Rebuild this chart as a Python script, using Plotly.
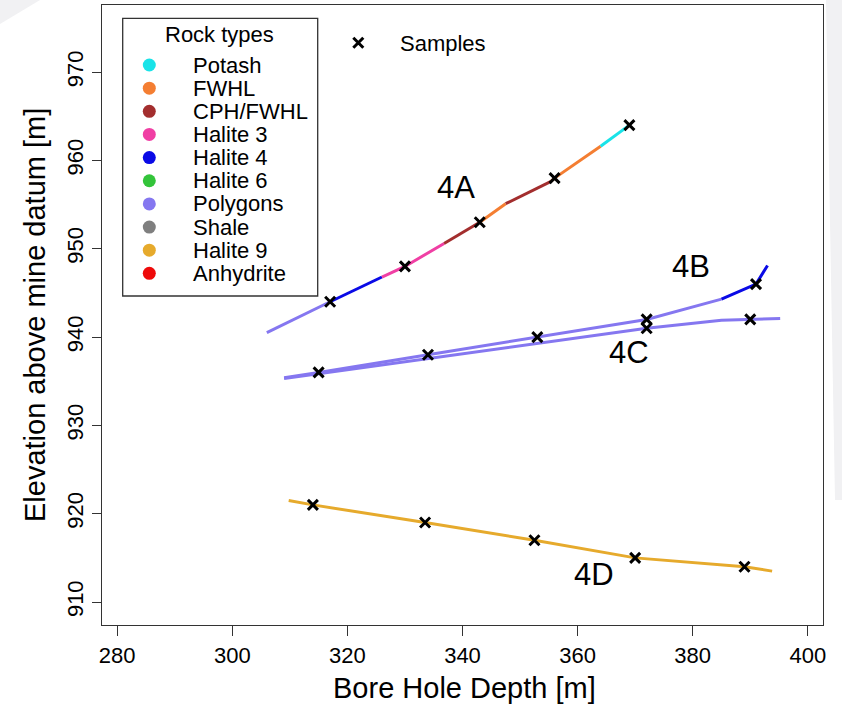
import plotly.graph_objects as go

# ---------------- data ----------------
rock_types = ["Potash", "FWHL", "CPH/FWHL", "Halite 3", "Halite 4",
              "Halite 6", "Polygons", "Shale", "Halite 9", "Anhydrite"]
rock_colors = ["#19E3E8", "#F47E32", "#A32E2E", "#F03FA4", "#0A0AE6",
               "#33C43A", "#8577F0", "#7F7F7F", "#E6AA2C", "#EE0A0A"]

# borehole traces: depth [m], elevation [m], rock type of segment starting at each vertex
bh_4A_depth = [306, 317, 326, 330, 336.8, 343, 347.5, 355.3, 356, 364, 369]
bh_4A_elev = [940.5, 944, 946.8, 948, 950.6, 953, 955.1, 957.6, 958, 961.6, 964]
bh_4A_rock = ["Polygons", "Halite 4", "Halite 3", "Halite 3", "CPH/FWHL",
              "FWHL", "CPH/FWHL", "FWHL", "FWHL", "Potash"]

bh_4B_depth = [309, 315, 334, 353, 372, 385, 391, 393]
bh_4B_elev = [935.4, 936, 938, 940, 942, 944.3, 946, 948.1]
bh_4B_rock = ["Polygons", "Polygons", "Polygons", "Polygons", "Polygons",
              "Halite 4", "Halite 4"]

bh_4C_depth = [309, 372, 385, 390, 395.2]
bh_4C_elev = [935.3, 941, 941.9, 942, 942.1]
bh_4C_rock = ["Polygons", "Polygons", "Polygons", "Polygons"]

bh_4D_depth = [309.8, 314, 333.5, 352.5, 370, 389, 393.8]
bh_4D_elev = [921.5, 921, 919, 917, 915, 914, 913.5]
bh_4D_rock = ["Halite 9"] * 6

# samples
samp_4A_depth = [317, 330, 343, 356, 369]
samp_4A_elev = [944, 948, 953, 958, 964]
samp_4B_depth = [315, 334, 353, 372, 391]
samp_4B_elev = [936, 938, 940, 942, 946]
samp_4C_depth = [372, 390]
samp_4C_elev = [941, 942]
samp_4D_depth = [314, 333.5, 352.5, 370, 389]
samp_4D_elev = [921, 919, 917, 915, 914]

# borehole labels
label_text = ["4A", "4B", "4C", "4D"]
label_depth = [338.8, 379.7, 368.9, 362.9]
label_elev = [956.9, 948.0, 938.2, 913.1]

x_ticks = [280, 300, 320, 340, 360, 380, 400]
y_ticks = [910, 920, 930, 940, 950, 960, 970]
x_range = [277.36, 402.64]
y_range = [907.4, 977.6]

# ---------------- layout geometry ----------------
W, H = 842, 706
ML, MR, MT, MB = 102, 19, 5, 81
PW, PH = W - ML - MR, H - MT - MB
FONT = "Liberation Sans, Arial, Helvetica, sans-serif"


def pxx(xp):
    return (xp - ML) / PW


def pxy(yp):
    return (H - MB - yp) / PH


color_of = dict(zip(rock_types, rock_colors))

fig = go.Figure()


def add_borehole(depth, elev, rock):
    n = len(rock)
    i = 0
    while i < n:
        j = i
        while j + 1 < n and rock[j + 1] == rock[i]:
            j += 1
        fig.add_trace(go.Scatter(
            x=depth[i:j + 2], y=elev[i:j + 2], mode="lines",
            line=dict(color=color_of[rock[i]], width=3),
            showlegend=False, hoverinfo="skip"))
        i = j + 1


for d, e, r in [(bh_4A_depth, bh_4A_elev, bh_4A_rock),
                (bh_4B_depth, bh_4B_elev, bh_4B_rock),
                (bh_4C_depth, bh_4C_elev, bh_4C_rock),
                (bh_4D_depth, bh_4D_elev, bh_4D_rock)]:
    add_borehole(d, e, r)

sample_marker = dict(symbol="x-thin", size=10, color="black",
                     line=dict(color="black", width=3))
for d, e in [(samp_4A_depth, samp_4A_elev), (samp_4B_depth, samp_4B_elev),
             (samp_4C_depth, samp_4C_elev), (samp_4D_depth, samp_4D_elev)]:
    fig.add_trace(go.Scatter(x=d, y=e, mode="markers", marker=sample_marker,
                             showlegend=False, hoverinfo="skip"))

annotations = []
for t, x, y in zip(label_text, label_depth, label_elev):
    annotations.append(dict(x=x, y=y, xref="x", yref="y", text=t,
                            showarrow=False, font=dict(size=31, color="black", family=FONT)))

# ---------------- custom legend (pixel overlay axes) ----------------
leg_x0, leg_y0, leg_x1, leg_y1 = 122.7, 18.3, 317.7, 296
row0, row_step = 65, 23.15
dot_x, text_x = 149.3, 191
fig.add_trace(go.Scatter(
    x=[dot_x] * len(rock_types),
    y=[row0 + i * row_step for i in range(len(rock_types))],
    mode="markers", xaxis="x2", yaxis="y2", cliponaxis=False,
    marker=dict(symbol="circle", size=13, color=rock_colors, line=dict(width=0)),
    showlegend=False, hoverinfo="skip"))
for i, name in enumerate(rock_types):
    annotations.append(dict(x=text_x, y=row0 + i * row_step, xref="x2", yref="y2",
                            text=name, showarrow=False, xanchor="left", yanchor="middle",
                            font=dict(size=22, color="black", family=FONT)))
annotations.append(dict(x=(leg_x0 + leg_x1) / 2 - 0.5, y=34.3, xref="x2", yref="y2",
                        text="Rock types", showarrow=False, xanchor="center",
                        yanchor="middle", font=dict(size=22, color="black", family=FONT)))
fig.add_trace(go.Scatter(x=[358.3], y=[42.7], mode="markers", xaxis="x2", yaxis="y2",
                         cliponaxis=False, marker=sample_marker,
                         showlegend=False, hoverinfo="skip"))
annotations.append(dict(x=398.3, y=43.3, xref="x2", yref="y2", text="Samples",
                        showarrow=False, xanchor="left", yanchor="middle",
                        font=dict(size=22, color="black", family=FONT)))

# axis titles (paper coordinates)
annotations.append(dict(x=pxx(464), y=pxy(688), xref="paper", yref="paper",
                        text="Bore Hole Depth [m]",
                        showarrow=False, xanchor="center", yanchor="middle",
                        font=dict(size=29, color="black", family=FONT)))
annotations.append(dict(x=pxx(35), y=pxy(315), xref="paper", yref="paper",
                        text="Elevation above mine datum [m]", textangle=-90,
                        showarrow=False, xanchor="center", yanchor="middle",
                        font=dict(size=29, color="black", family=FONT)))


def paper_path(points):
    return "M " + " L ".join(f"{pxx(a):.5f},{pxy(b):.5f}" for a, b in points) + " Z"


shapes = [
    # faint grey page artefacts at the image edges
    dict(type="path", xref="paper", yref="paper", layer="below",
         path=paper_path([(826, 0), (842, 0), (842, 500), (835, 500)]),
         fillcolor="#F1F1F3", line=dict(width=0)),
    dict(type="path", xref="paper", yref="paper", layer="below",
         path=paper_path([(0, 0), (40, 0), (0, 24)]),
         fillcolor="#F1F1F3", line=dict(width=0)),
    dict(type="rect", xref="x2", yref="y2", x0=leg_x0, x1=leg_x1,
         y0=leg_y0, y1=leg_y1, line=dict(color="#333333", width=1.3),
         fillcolor="white", layer="below"),
]

fig.update_layout(
    width=W, height=H,
    margin=dict(l=ML, r=MR, t=MT, b=MB, pad=0),
    paper_bgcolor="white", plot_bgcolor="white",
    showlegend=False,
    font=dict(family=FONT, color="black"),
    xaxis=dict(range=x_range, tickvals=x_ticks, ticks="outside", ticklen=10,
               tickwidth=1.3, tickcolor="#333333", showline=True, mirror=True,
               linecolor="#333333", linewidth=1.3, showgrid=False, zeroline=False,
               tickfont=dict(size=22, color="black"), ticklabelstandoff=0),
    yaxis=dict(range=y_range, tickvals=y_ticks, ticks="outside", ticklen=9,
               tickwidth=1.3, tickcolor="#333333", showline=True, mirror=True,
               linecolor="#333333", linewidth=1.3, showgrid=False, zeroline=False,
               tickangle=-90, tickfont=dict(size=22, color="black"),
               ticklabelstandoff=0),
    xaxis2=dict(range=[ML, W - MR], overlaying="x", visible=False, fixedrange=True),
    yaxis2=dict(range=[H - MB, MT], overlaying="y", visible=False, fixedrange=True),
    annotations=annotations,
    shapes=shapes,
)

fig.write_html("out.html")
